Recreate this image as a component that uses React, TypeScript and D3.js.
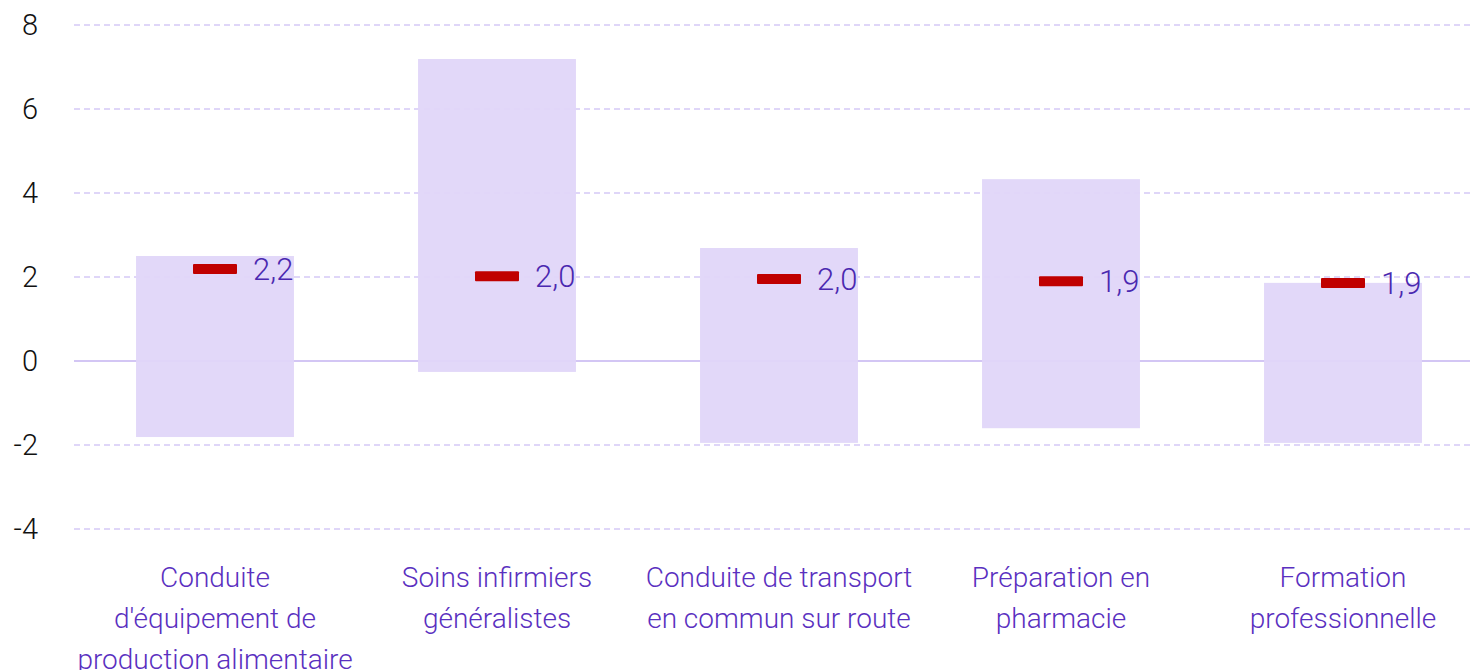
import React from "react";
import * as d3 from "d3";

const categories = [
  ["Conduite", "d'équipement de", "production alimentaire"],
  ["Soins infirmiers", "généralistes"],
  ["Conduite de transport", "en commun sur route"],
  ["Préparation en", "pharmacie"],
  ["Formation", "professionnelle"],
];
const lowValues = [-1.81, -0.26, -1.95, -1.6, -1.95];
const highValues = [2.5, 7.19, 2.69, 4.33, 1.86];
const medianValues = [2.19, 2.02, 1.95, 1.9, 1.86];
const medianLabels = ["2,2", "2,0", "2,0", "1,9", "1,9"];
const yTicks = [-4, -2, 0, 2, 4, 6, 8];

const W = 1470;
const H = 670;
const FONT = "Roboto, 'Open Sans', sans-serif";

export default function App() {
  const x = d3.scaleBand<number>().domain(d3.range(5)).range([74, 1484]).paddingInner(0.44).paddingOuter(0.22);
  const y = d3.scaleLinear().domain([-4, 8]).range([529, 25]);
  const bw = x.bandwidth();
  return (
    <svg width={W} height={H} style={{ position: "absolute", left: 0, top: 0 }}>
      {yTicks.map((t) => (
        <g key={t}>
          <line
            x1={74}
            x2={W}
            y1={y(t)}
            y2={y(t)}
            stroke={t === 0 ? "#d3c6f4" : "#d5c9f6"}
            strokeWidth={t === 0 ? 2 : 1.5}
            strokeDasharray={t === 0 ? undefined : "6 4"}
          />
          <text x={38} y={y(t)} dy="0.36em" textAnchor="end" fontFamily={FONT} fontWeight={300} fontSize={29} fill="#111">
            {t}
          </text>
        </g>
      ))}
      {categories.map((c, i) => {
        const cx = (x(i) as number) + bw / 2;
        return (
          <g key={i}>
            <rect x={x(i)} y={y(highValues[i])} width={bw} height={y(lowValues[i]) - y(highValues[i])} fill="#e0d6f9" fillOpacity={0.95} />
            <rect x={cx - 22} y={y(medianValues[i]) - 5} width={44} height={10} fill="#c00000" rx={1} />
            <text x={cx + 38} y={y(medianValues[i])} dy="0.36em" fontFamily={FONT} fontWeight={300} fontSize={31} fill="#4a28b0">
              {medianLabels[i]}
            </text>
            {c.map((line, j) => (
              <text key={j} x={cx} y={577 + j * 41} dy="0.36em" textAnchor="middle" fontFamily={FONT} fontWeight={300} fontSize={28} fill="#5a30c0">
                {line}
              </text>
            ))}
          </g>
        );
      })}
    </svg>
  );
}
